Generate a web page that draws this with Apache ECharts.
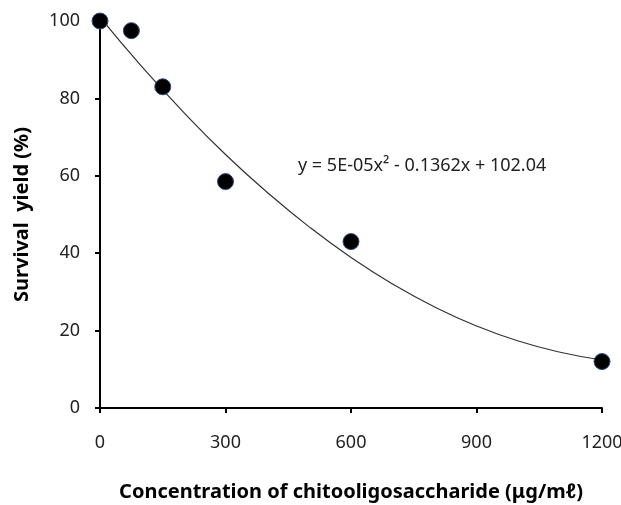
<!DOCTYPE html>
<html>
<head>
<meta charset="utf-8">
<script src="https://cdn.jsdelivr.net/npm/echarts@6/dist/echarts.min.js"></script>
<style>html,body{margin:0;padding:0;background:#fff}#c{width:621px;height:505px}</style>
</head>
<body>
<div id="c"></div>
<script>
// Measured points
var concentration = [0, 75, 150, 300, 600, 1200];
var survival = [100, 97.5, 83, 58.5, 43, 12];
// Trendline
var trendX = [0, 100, 200, 300, 400, 500, 600, 700, 800, 900, 1000, 1100, 1200];
var trendY = [101.0, 88.2, 76.4, 65.5, 55.7, 46.8, 38.9, 32.0, 26.1, 21.2, 17.3, 14.4, 12.4];
var xTicks = [0, 300, 600, 900, 1200];
var yTicks = [0, 20, 40, 60, 80, 100];
var equationText = 'y = 5E-05x² - 0.1362x + 102.04';
var xTitle = 'Concentration of chitooligosaccharide (\u03bcg/m\u2113)';
var yTitle = 'Survival  yield (%)';

var chart = echarts.init(document.getElementById('c'), null, {renderer: 'canvas'});
var font = '"Noto Sans", "DejaVu Sans", sans-serif';
chart.setOption({
  animation: false,
  backgroundColor: '#ffffff',
  grid: {left: 100, right: 19, top: 21, bottom: 97, containLabel: false, outerBoundsMode: 'none'},
  xAxis: {
    type: 'value', min: xTicks[0], max: xTicks[xTicks.length - 1], interval: 300,
    name: xTitle, nameLocation: 'middle', nameGap: 74,
    nameTextStyle: {fontFamily: font, fontSize: 20, fontWeight: 'bold', color: '#000'},
    axisLine: {show: true, lineStyle: {color: '#000', width: 2}},
    axisTick: {show: true, length: 5, lineStyle: {color: '#000', width: 2}},
    axisLabel: {fontFamily: font, fontSize: 18, color: '#222', margin: 26,
      formatter: function (v) { return String(v); }},
    splitLine: {show: false}
  },
  yAxis: {
    type: 'value', min: yTicks[0], max: yTicks[yTicks.length - 1], interval: 20,
    name: yTitle, nameLocation: 'middle', nameGap: 68,
    nameTextStyle: {fontFamily: font, fontSize: 20, fontWeight: 'bold', color: '#000'},
    axisLine: {show: true, lineStyle: {color: '#000', width: 2}},
    axisTick: {show: true, length: 5, lineStyle: {color: '#000', width: 2}},
    axisLabel: {fontFamily: font, fontSize: 18, color: '#222', margin: 20,
      formatter: function (v) { return String(v); }},
    splitLine: {show: false}
  },
  graphic: [{
    type: 'text', left: 298, top: 157,
    style: {text: equationText, fontFamily: font, fontSize: 18, fill: '#222'}
  }],
  series: [{
    type: 'line', data: trendX.map(function (x, i) { return [x, trendY[i]]; }),
    smooth: true, showSymbol: false, symbol: 'none',
    lineStyle: {color: '#333', width: 1.2}, z: 2
  }, {
    type: 'scatter', data: concentration.map(function (x, i) { return [x, survival[i]]; }),
    symbol: 'circle', symbolSize: 16,
    itemStyle: {color: '#000', opacity: 1, borderColor: '#2b4f80', borderWidth: 1}, z: 3
  }]
});
</script>
</body>
</html>
